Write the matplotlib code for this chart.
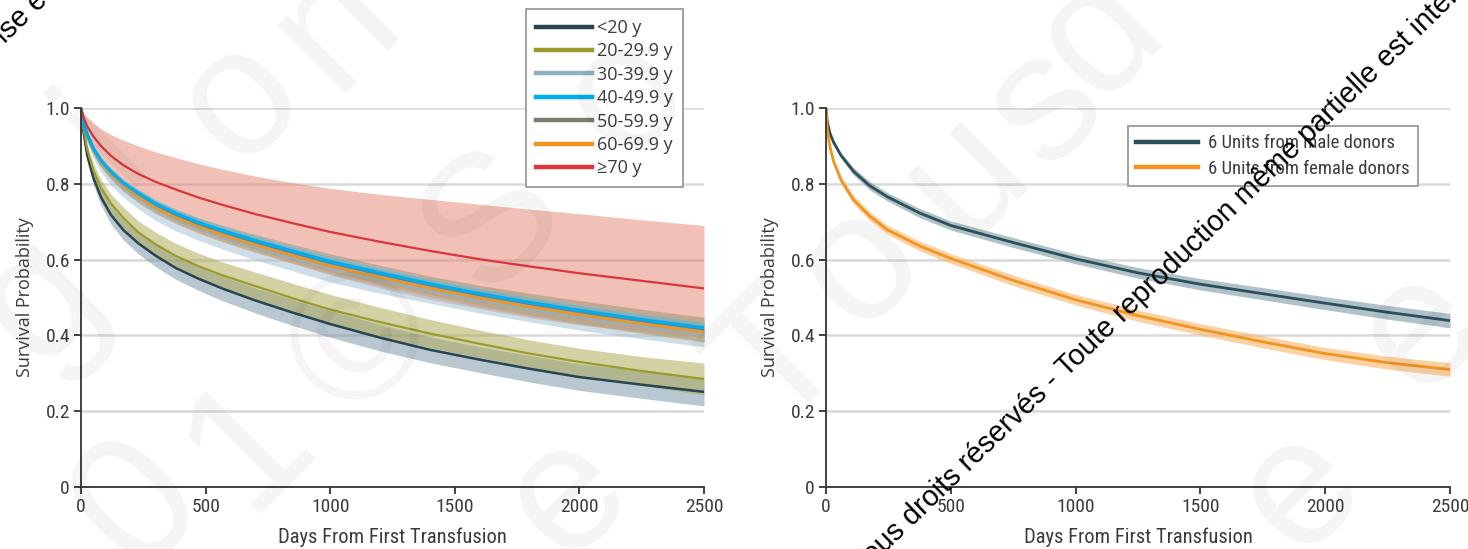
import matplotlib
matplotlib.use("Agg")
import matplotlib.pyplot as plt
from matplotlib import font_manager
from matplotlib.font_manager import FontProperties
from matplotlib.lines import Line2D

# ---------------------------------------------------------------- data
# follow-up times (days) at which the Kaplan-Meier estimates are tabulated
days_age = [0, 10, 25, 50, 80, 120, 170, 230, 300, 380, 470, 570, 700, 850,
            1000, 1200, 1400, 1600, 1800, 2000, 2250, 2500]

age_labels = ["<20 y", "20-29.9 y", "30-39.9 y", "40-49.9 y", "50-59.9 y", "60-69.9 y", "≥70 y"]

surv_lt20 = [1.0, 0.937, 0.875, 0.815, 0.765, 0.718, 0.678, 0.643, 0.61, 0.578, 0.55, 0.523,
             0.492, 0.46, 0.43, 0.394, 0.362, 0.336, 0.312, 0.29, 0.27, 0.251]
hw_lt20 = [0, 0.01, 0.015, 0.018, 0.021, 0.024, 0.026, 0.028, 0.029, 0.03, 0.031, 0.032,
           0.033, 0.034, 0.035, 0.035, 0.034, 0.034, 0.035, 0.035, 0.036, 0.037]

surv_20s = [1.0, 0.945, 0.89, 0.835, 0.79, 0.748, 0.71, 0.672, 0.64, 0.61, 0.583, 0.558,
            0.53, 0.498, 0.468, 0.435, 0.405, 0.378, 0.352, 0.33, 0.306, 0.285]
hw_20s = [0, 0.01, 0.015, 0.019, 0.022, 0.025, 0.028, 0.03, 0.032, 0.033, 0.034, 0.035,
          0.037, 0.039, 0.04, 0.039, 0.037, 0.036, 0.036, 0.036, 0.038, 0.042]

surv_30s = [1.0, 0.956, 0.922, 0.883, 0.85, 0.819, 0.788, 0.76, 0.731, 0.705, 0.681, 0.658,
            0.632, 0.604, 0.576, 0.546, 0.518, 0.492, 0.469, 0.448, 0.424, 0.402]
hw_30s = [0, 0.008, 0.012, 0.016, 0.019, 0.022, 0.024, 0.026, 0.028, 0.029, 0.03, 0.031,
          0.033, 0.034, 0.035, 0.035, 0.033, 0.033, 0.033, 0.034, 0.033, 0.032]

surv_40s = [1.0, 0.962, 0.93, 0.893, 0.862, 0.832, 0.802, 0.775, 0.747, 0.722, 0.698, 0.676,
            0.65, 0.622, 0.595, 0.565, 0.536, 0.51, 0.487, 0.466, 0.442, 0.42]
hw_40s = [0, 0.004, 0.006, 0.007, 0.008, 0.009, 0.009, 0.01, 0.01, 0.011, 0.011, 0.012,
          0.012, 0.012, 0.013, 0.013, 0.013, 0.014, 0.014, 0.014, 0.015, 0.015]

surv_50s = [1.0, 0.959, 0.927, 0.889, 0.858, 0.828, 0.798, 0.771, 0.743, 0.718, 0.694, 0.672,
            0.646, 0.618, 0.591, 0.561, 0.532, 0.506, 0.483, 0.462, 0.438, 0.416]
hw_50s = [0, 0.005, 0.007, 0.008, 0.009, 0.01, 0.011, 0.012, 0.013, 0.014, 0.016, 0.018,
          0.02, 0.022, 0.024, 0.024, 0.024, 0.026, 0.028, 0.03, 0.031, 0.032]

surv_60s = [1.0, 0.959, 0.926, 0.888, 0.856, 0.825, 0.794, 0.766, 0.737, 0.711, 0.687, 0.664,
            0.638, 0.61, 0.582, 0.552, 0.524, 0.498, 0.475, 0.454, 0.43, 0.408]
hw_60s = [0, 0.005, 0.008, 0.01, 0.012, 0.013, 0.014, 0.015, 0.016, 0.016, 0.017, 0.018,
          0.019, 0.02, 0.02, 0.021, 0.022, 0.023, 0.024, 0.024, 0.025, 0.026]

surv_70p = [1.0, 0.975, 0.952, 0.925, 0.9, 0.874, 0.849, 0.826, 0.805, 0.785, 0.764, 0.744,
            0.72, 0.696, 0.673, 0.647, 0.623, 0.601, 0.582, 0.564, 0.544, 0.524]
lo_70p = [1.0, 0.96, 0.925, 0.885, 0.85, 0.815, 0.78, 0.75, 0.722, 0.697, 0.672, 0.648,
          0.62, 0.59, 0.56, 0.525, 0.495, 0.47, 0.447, 0.428, 0.41, 0.395]
hi_70p = [1.0, 0.988, 0.975, 0.96, 0.945, 0.93, 0.915, 0.9, 0.884, 0.869, 0.853, 0.838,
          0.82, 0.803, 0.788, 0.772, 0.759, 0.746, 0.733, 0.721, 0.705, 0.69]

days_sex = [0, 5, 15, 30, 60, 110, 175, 245, 375, 500, 750, 1000, 1250, 1500, 1750, 2000, 2250, 2500]
sex_labels = ["6 Units from male donors", "6 Units from female donors"]

surv_male = [1.0, 0.965, 0.935, 0.91, 0.875, 0.833, 0.795, 0.766, 0.723, 0.69, 0.645, 0.602,
             0.565, 0.535, 0.51, 0.485, 0.461, 0.439]
hw_male = [0, 0.003, 0.005, 0.006, 0.007, 0.01, 0.011, 0.011, 0.012, 0.012, 0.013, 0.013,
           0.014, 0.015, 0.016, 0.017, 0.018, 0.019]

surv_female = [1.0, 0.945, 0.90, 0.86, 0.81, 0.758, 0.715, 0.679, 0.636, 0.603, 0.545, 0.494,
               0.452, 0.416, 0.383, 0.352, 0.328, 0.31]
hw_female = [0, 0.004, 0.006, 0.008, 0.01, 0.011, 0.012, 0.012, 0.013, 0.013, 0.014, 0.014,
             0.015, 0.015, 0.016, 0.016, 0.017, 0.018]

x_ticks = [0, 500, 1000, 1500, 2000, 2500]
y_ticks = [0, 0.2, 0.4, 0.6, 0.8, 1.0]
y_tick_labels = ["0", "0.2", "0.4", "0.6", "0.8", "1.0"]


def band(surv, hw):
    lo = [s - h for s, h in zip(surv, hw)]
    hi = [s + h for s, h in zip(surv, hw)]
    return lo, hi


# ---------------------------------------------------------------- fonts
installed = {f.name for f in font_manager.fontManager.ttflist}


def narrow_font(size):
    for fam in ("Liberation Sans Narrow", "Roboto Condensed", "Open Sans Condensed"):
        if fam in installed:
            return FontProperties(family=fam, size=size)
    return FontProperties(family="DejaVu Sans", stretch="condensed", size=size)


def body_font(size):
    fam = "Open Sans" if "Open Sans" in installed else "DejaVu Sans"
    return FontProperties(family=fam, size=size)


TEXT = "#3b3b3b"
W, H = 1468, 549

fig = plt.figure(figsize=(W / 100, H / 100), dpi=100)
fig.patch.set_facecolor("white")

ax1 = fig.add_axes([81 / W, 1 - 487 / H, (704 - 81) / W, (487 - 108) / H])
ax2 = fig.add_axes([826 / W, 1 - 487 / H, (1450 - 826) / W, (487 - 108) / H])


def style(ax):
    ax.set_facecolor("none")
    ax.set_xlim(0, 2500)
    ax.set_ylim(0, 1.0)
    ax.set_xticks(x_ticks)
    ax.set_xticklabels([str(t) for t in x_ticks])
    ax.set_yticks(y_ticks)
    ax.set_yticklabels(y_tick_labels)
    for s in ("top", "right"):
        ax.spines[s].set_visible(False)
    for s in ("left", "bottom"):
        ax.spines[s].set_color("#333333")
        ax.spines[s].set_linewidth(1.3)
        ax.spines[s].set_zorder(6)
    ax.tick_params(direction="out", length=5, width=1.3, color="#333333",
                   labelcolor=TEXT, pad=3)
    for lab in ax.get_xticklabels() + ax.get_yticklabels():
        lab.set_fontproperties(narrow_font(14))
    ax.grid(axis="y", color="#d9d9d9", linewidth=1.8)
    ax.grid(axis="x", visible=False)
    ax.set_axisbelow(True)
    ax.set_xlabel("Days From First Transfusion", fontproperties=narrow_font(14.8),
                  color=TEXT, labelpad=8)
    ax.set_ylabel("Survival Probability", fontproperties=body_font(13),
                  color=TEXT, labelpad=8)


# ---------------------------------------------------------------- age groups
lo_lt20, hi_lt20 = band(surv_lt20, hw_lt20)
lo_20s, hi_20s = band(surv_20s, hw_20s)
lo_30s, hi_30s = band(surv_30s, hw_30s)
lo_40s, hi_40s = band(surv_40s, hw_40s)
lo_50s, hi_50s = band(surv_50s, hw_50s)
lo_60s, hi_60s = band(surv_60s, hw_60s)

age_series = [
    # label, surv, lo, hi, line colour, band colour, band alpha, band z, line z, lw
    (age_labels[6], surv_70p, lo_70p, hi_70p, "#d8373e", "#e4826e", 0.5, 1.0, 3.7, 1.6),
    (age_labels[4], surv_50s, lo_50s, hi_50s, "#7e7a6c", "#8d8b62", 0.45, 1.1, 3.2, 1.6),
    (age_labels[2], surv_30s, lo_30s, hi_30s, "#8fb1c4", "#9dbfd0", 0.5, 1.2, 3.1, 1.6),
    (age_labels[5], surv_60s, lo_60s, hi_60s, "#f2941f", "#c99a5e", 0.45, 1.3, 3.3, 1.8),
    (age_labels[3], surv_40s, lo_40s, hi_40s, "#00aeef", "#55b8dc", 0.45, 1.4, 3.4, 2.4),
    (age_labels[1], surv_20s, lo_20s, hi_20s, "#9c9a2c", "#aaa64c", 0.5, 1.5, 3.05, 1.6),
    (age_labels[0], surv_lt20, lo_lt20, hi_lt20, "#27444f", "#7590a4", 0.5, 1.45, 3.0, 1.8),
]

line_colour = {}
for lab, s, lo, hi, lc, bc, ba, bz, lz, lw in age_series:
    ax1.fill_between(days_age, lo, hi, color=bc, alpha=ba, linewidth=0, zorder=bz)
    ax1.plot(days_age, s, color=lc, linewidth=lw, zorder=lz, solid_joinstyle="round")
    line_colour[lab] = lc

style(ax1)

handles1 = [Line2D([], [], color=line_colour[lab], linewidth=3.2) for lab in age_labels]
leg1 = ax1.legend(handles1, age_labels, loc="upper left",
                  bbox_to_anchor=((526 - 81) / 623, 1 + (108 - 9) / 379),
                  prop=body_font(13), handlelength=3.1, handletextpad=0.3,
                  labelspacing=0.3, borderpad=0.55, borderaxespad=0,
                  frameon=True, fancybox=False, edgecolor="#9a9a9a",
                  framealpha=1, labelcolor=TEXT)
leg1.get_frame().set_linewidth(1.3)
leg1.set_zorder(8)

# ---------------------------------------------------------------- donor sex
lo_male, hi_male = band(surv_male, hw_male)
lo_female, hi_female = band(surv_female, hw_female)

ax2.fill_between(days_sex, lo_male, hi_male, color="#6f8e9c", alpha=0.55, linewidth=0, zorder=1)
ax2.fill_between(days_sex, lo_female, hi_female, color="#f7b466", alpha=0.6, linewidth=0, zorder=1.1)
ax2.plot(days_sex, surv_male, color="#2b4f5c", linewidth=2.0, zorder=3)
ax2.plot(days_sex, surv_female, color="#f39320", linewidth=2.0, zorder=3.1)

style(ax2)

handles2 = [Line2D([], [], color="#2b4f5c", linewidth=3.2),
            Line2D([], [], color="#f39320", linewidth=3.2)]
leg2 = ax2.legend(handles2, sex_labels, loc="upper left",
                  bbox_to_anchor=((1128 - 826) / 624, 1 - (126 - 108) / 379),
                  prop=narrow_font(13.5), handlelength=3.3, handletextpad=0.5,
                  labelspacing=0.38, borderpad=0.45, borderaxespad=0,
                  frameon=True, fancybox=False, edgecolor="#9a9a9a",
                  framealpha=1, labelcolor=TEXT)
leg2.get_frame().set_linewidth(1.3)
leg2.set_zorder(8)

# ---------------------------------------------------------------- overprint
wm_fam = "Liberation Sans" if "Liberation Sans" in installed else "DejaVu Sans"

# large pale lettering across the sheet
pale_letters = [
    ("g", 40, 300), ("i", 105, 140), ("o", 240, 100), ("n", 335, 25),
    ("0", 140, 505), ("1", 250, 445), ("©", 365, 345), ("S", 495, 222),
    ("o", 625, 95), ("e", 567, 495),
    ("T", 780, 360), ("o", 860, 265), ("u", 965, 175), ("s", 1045, 105),
    ("d", 1100, 35), ("e", 1300, 490), ("e", 1420, 330),
]
for ch, px, py in pale_letters:
    fig.text(px / W, 1 - py / H, ch, fontsize=130, family=wm_fam, color="black",
             alpha=0.045, rotation=45, rotation_mode="anchor",
             ha="center", va="center", zorder=20)

# copyright line printed diagonally
fig.text(863 / W, 1 - 575 / H,
         "Tous droits réservés - Toute reproduction même partielle est interdite",
         fontsize=20.8, family=wm_fam, color="black", rotation=44,
         rotation_mode="anchor", ha="left", va="baseline", zorder=21)
fig.text(5 / W, 1 - 44 / H, "ise e", fontsize=20.8, family=wm_fam, color="black",
         rotation=44, rotation_mode="anchor", ha="left", va="baseline", zorder=21)

fig.savefig("out.png", dpi=100, facecolor="white")
